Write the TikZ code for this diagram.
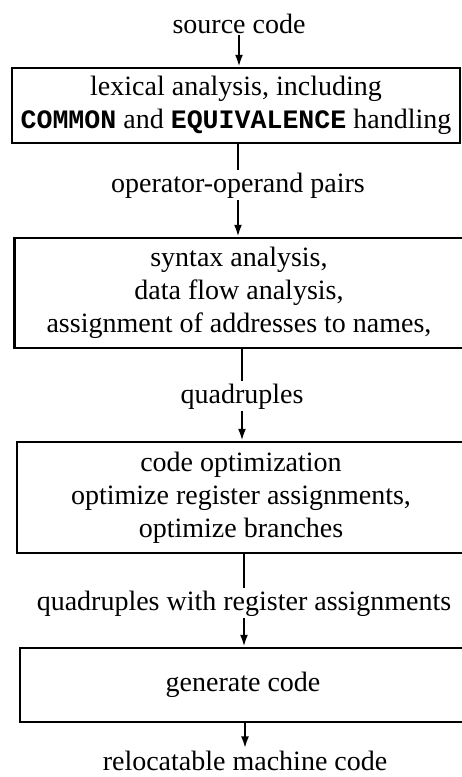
\documentclass[tikz,border=0pt]{standalone}
\usepackage{fontspec}
\setmainfont{Liberation Serif}
\newfontfamily\monob{Liberation Mono}[Scale=0.95]
\usetikzlibrary{arrows.meta}
\tikzset{
  stagebox/.style={draw, line width=2.5pt, align=center, inner sep=0pt},
  flowlabel/.style={anchor=base, inner sep=2pt},
  conn/.style={line width=2.2pt},
  arr/.style={conn, -{Latex[length=12pt,width=8pt]}}
}
\begin{document}
\begin{tikzpicture}[x=1pt, y=-1pt, font=\fontsize{28}{33}\selectfont]
\useasboundingbox (0,0) rectangle (461,777);
\node[flowlabel] (src) at (239,33) {source code};
\node[stagebox, minimum width=448pt, minimum height=75pt] (b1) at (236,105.5)
  {lexical analysis, including\\ {\monob\bfseries COMMON} and {\monob\bfseries EQUIVALENCE} handling};
\node[flowlabel] (l1) at (238,192) {operator-operand pairs};
\node[stagebox, minimum width=449pt, minimum height=110pt] (b2) at (239,293)
  {syntax analysis,\\ data flow analysis,\\ assignment of addresses to names,};
\node[flowlabel] (l2) at (242,403) {quadruples};
\node[stagebox, minimum width=448pt, minimum height=111pt] (b3) at (241,497.5)
  {code optimization\\ optimize register assignments,\\ optimize branches};
\node[flowlabel] (l3) at (244,610) {quadruples with register assignments};
\node[stagebox, minimum width=446pt, minimum height=74pt] (b4) at (243,685)
  {generate code};
\node[flowlabel] (out) at (245,770) {relocatable machine code};

\draw[arr] (src.south) -- (src.south |- b1.north);
\draw[conn] (l1.north |- b1.south) -- (l1.north);
\draw[arr] (l1.south) -- (l1.south |- b2.north);
\draw[conn] (l2.north |- b2.south) -- (l2.north);
\draw[arr] (l2.south) -- (l2.south |- b3.north);
\draw[conn] (l3.north |- b3.south) -- (l3.north);
\draw[arr] (l3.south) -- (l3.south |- b4.north);
\draw[arr] (out.north |- b4.south) -- (out.north);
\end{tikzpicture}
\end{document}
